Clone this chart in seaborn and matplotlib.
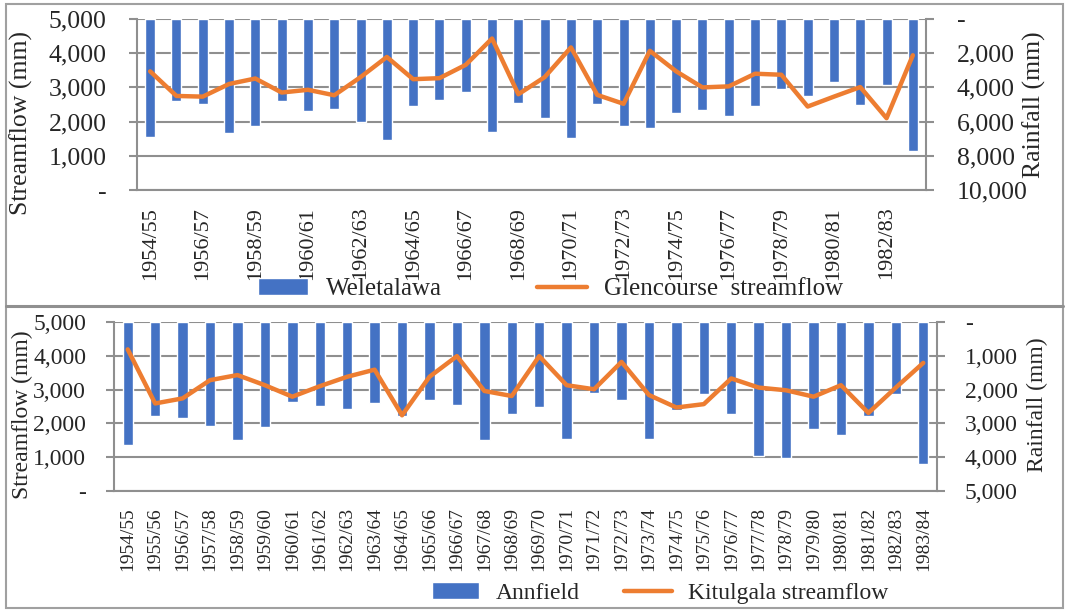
import numpy as np
import matplotlib
matplotlib.use('Agg')
import matplotlib.pyplot as plt
from matplotlib.ticker import FuncFormatter
from matplotlib.patches import Rectangle
import seaborn as sns

# seasons (hydrological years)
seasons = ['1954/55', '1955/56', '1956/57', '1957/58', '1958/59', '1959/60',
           '1960/61', '1961/62', '1962/63', '1963/64', '1964/65', '1965/66',
           '1966/67', '1967/68', '1968/69', '1969/70', '1970/71', '1971/72',
           '1972/73', '1973/74', '1974/75', '1975/76', '1976/77', '1977/78',
           '1978/79', '1979/80', '1980/81', '1981/82', '1982/83', '1983/84']

# top panel: Weletalawa rainfall (bars, right axis) / Glencourse streamflow (line)
weletalawa_rain = [6880, 4790, 4980, 6640, 6250, 4790, 5390, 5270, 6040, 7090,
                   5060, 4710, 4260, 6600, 4920, 5780, 6930, 4980, 6270, 6390,
                   5470, 5330, 5660, 5100, 4100, 4530, 3710, 5040, 3870, 7730]
glencourse_flow = [3470, 2750, 2730, 3100, 3260, 2850, 2930, 2770, 3300, 3890,
                   3240, 3270, 3660, 4430, 2800, 3300, 4170, 2780, 2520, 4070,
                   3470, 3000, 3030, 3400, 3370, 2440, 2730, 3010, 2100, 3940]

# bottom panel: Annfield rainfall (bars) / Kitulgala streamflow (line)
annfield_rain = [3650, 2780, 2830, 3070, 3480, 3100, 2360, 2490, 2560, 2390,
                 2770, 2310, 2450, 3480, 2720, 2510, 3460, 2110, 2310, 3450,
                 2610, 2140, 2710, 3960, 4020, 3160, 3330, 2790, 2120, 4200]
kitulgala_flow = [4190, 2590, 2740, 3280, 3430, 3130, 2790, 3100, 3380, 3590,
                  2240, 3380, 3990, 2960, 2810, 3990, 3130, 3010, 3820, 2840,
                  2470, 2570, 3330, 3060, 2980, 2790, 3130, 2310, 3060, 3790]

BLUE = '#4472C4'
ORANGE = '#ED7D31'
GREY = '#8f8f8f'

sns.set_style('white')
plt.rcParams['font.family'] = ['Liberation Serif', 'DejaVu Serif']

W, H = 1065, 610
fig = plt.figure(figsize=(W / 100, H / 100), dpi=100)


def fmt(v, pos):
    return '-' if abs(v) < 1e-6 else f'{int(round(v)):,}'


def panel(box, rain, flow, rain_max, rain_step, xlab_every, fs_y, fs_x,
          pad_y, pad_x, lab_left, lab_right, names, leg_xy, fs_leg, colsp, txtpad):
    l, t, r, b = box
    ax = fig.add_axes([l / W, 1 - b / H, (r - l) / W, (b - t) / H])
    ax2 = ax.twinx()

    sns.barplot(x=seasons, y=rain, ax=ax2, color=BLUE, saturation=1,
                width=0.38, label=names[0])
    sns.pointplot(x=seasons, y=flow, ax=ax, color=ORANGE, markers='',
                  label=names[1])
    ax.lines[0].set_linewidth(3.2)
    ax.lines[0].set_solid_joinstyle('round')

    ax.set_ylim(0, 5000)
    ax.set_yticks(np.arange(0, 5001, 1000))
    ax2.set_ylim(rain_max, 0)
    ax2.set_yticks(np.arange(0, rain_max + 1, rain_step))
    ax.yaxis.set_major_formatter(FuncFormatter(fmt))
    ax2.yaxis.set_major_formatter(FuncFormatter(fmt))
    ax.set_xlim(-0.5, len(seasons) - 0.5)

    # gridlines behind the bars, line on top
    ax.grid(False)
    ax2.grid(False)
    ax2.yaxis.grid(True, color=GREY, linewidth=1.5)
    ax2.set_axisbelow(True)
    ax.set_zorder(ax2.get_zorder() + 1)
    ax.patch.set_visible(False)

    for s in ['top', 'right']:
        ax.spines[s].set_visible(False)
    for s in ['left', 'bottom']:
        ax.spines[s].set_color(GREY)
        ax.spines[s].set_linewidth(1.5)
    for s in ['top', 'left', 'bottom']:
        ax2.spines[s].set_visible(False)
    ax2.spines['right'].set_color(GREY)
    ax2.spines['right'].set_linewidth(1.5)

    ax.tick_params(axis='y', length=6, width=1.5, color=GREY, labelsize=fs_y, pad=pad_y)
    ax2.tick_params(axis='y', length=6, width=1.5, color=GREY, labelsize=fs_y, pad=pad_y)

    ax.set_xticks(range(len(seasons)))
    ax.set_xticklabels([s if i % xlab_every == 0 else '' for i, s in enumerate(seasons)])
    ax.set_xticks(np.arange(len(seasons) + 1) - 0.5, minor=True)
    ax.tick_params(axis='x', which='major', length=0, labelsize=fs_x,
                   labelrotation=90, pad=pad_x)
    ax.tick_params(axis='x', which='minor', length=5, width=1.5, color=GREY)
    ax.set_xlabel('')

    ax.set_ylabel('Streamflow (mm)', fontsize=fs_y)
    ax2.set_ylabel('Rainfall (mm)', fontsize=fs_y)
    ax.yaxis.set_label_coords(*lab_left)
    ax2.yaxis.set_label_coords(*lab_right)

    if ax.get_legend():
        ax.get_legend().remove()
    if ax2.get_legend():
        ax2.get_legend().remove()
    fig.legend([ax2.containers[0], ax.lines[0]], names, loc='center',
               bbox_to_anchor=(leg_xy[0] / W, 1 - leg_xy[1] / H), ncol=2,
               frameon=False, fontsize=fs_leg, handlelength=2.0,
               handletextpad=txtpad, columnspacing=colsp, borderaxespad=0)


panel((137, 19, 926, 190), weletalawa_rain, glencourse_flow, 10000, 2000, 2,
      18.5, 16, 16, 12, (-0.132, 0.39), (1.123, 0.497),
      ['Weletalawa', 'Glencourse  streamflow'], (551, 289), 18, 3.8, 0.7)

panel((114, 322, 937, 491), annfield_rain, kitulgala_flow, 5000, 1000, 1,
      17, 14, 14, 11.5, (-0.098, 0.45), (1.109, 0.51),
      ['Annfield', 'Kitulgala streamflow'], (660, 593), 17, 1.9, 0.7)

# outer frame and separator, as in the source figure
fig.add_artist(Rectangle((6 / W, 1 - 608 / H), 1057 / W, 604 / H, transform=fig.transFigure,
                         fill=False, edgecolor='#a0a0a0', linewidth=1.5))
fig.add_artist(plt.Line2D([6 / W, 1063 / W], [1 - 305.5 / H, 1 - 305.5 / H],
                          transform=fig.transFigure, color='#909090', linewidth=2.2))

fig.savefig('out.png', dpi=100)
